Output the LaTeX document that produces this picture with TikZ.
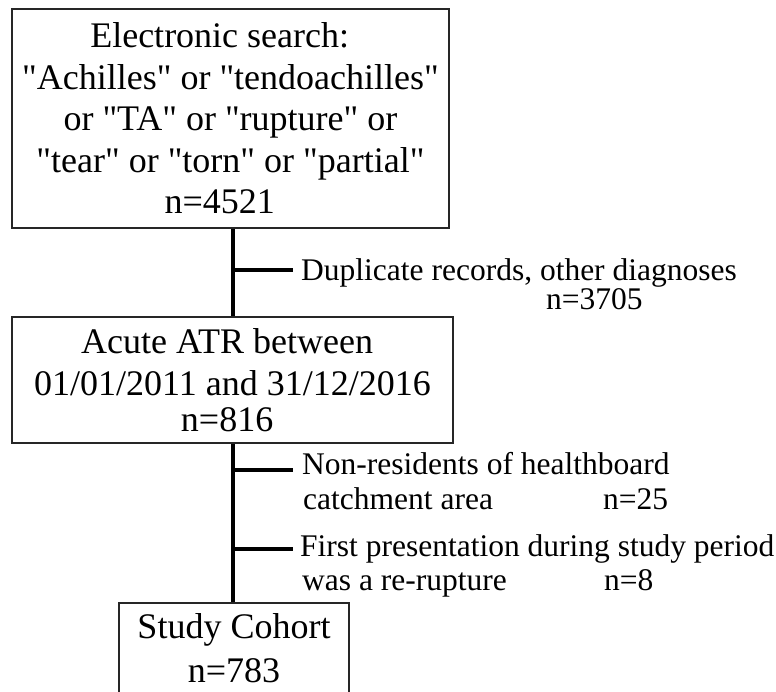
\documentclass[tikz,border=0pt]{standalone}
\usepackage{fontspec}
\setmainfont{Liberation Serif}[Ligatures=TeXOff]
\newcommand{\boxfont}{\fontsize{36}{41.5}\selectfont}
\newcommand{\brfont}{\fontsize{31.5}{35}\selectfont}
\begin{document}
\begin{tikzpicture}[x=1pt,y=-1pt,
  flowbox/.style={draw=black!85, line width=1.6pt, inner sep=0pt, align=center, font=\boxfont},
  trunk/.style={line width=4.5pt},
  branch/.style={line width=4pt},
  brtext/.style={anchor=base west, inner sep=0pt, font=\brfont}]
\clip (0,0) rectangle (776,691);
\fill[white] (0,0) rectangle (776,691);
\coordinate (tx) at (233,0);
% boxes
\node[flowbox, minimum width=437pt, minimum height=219pt] (b1) at (230.5,118.5)
  {Electronic search:\hspace*{0.6em}\\
   "Achilles" or "tendoachilles"\\
   or "TA" or "rupture" or\hspace*{0.35em}\\
   "tear" or "torn" or "partial"\\
   n=4521\hspace*{0.6em}};
\node[flowbox, minimum width=441pt, minimum height=126pt] (b2) at (232.5,380)
  {Acute ATR between\hspace*{0.3em}\\
   01/01/2011 and 31/12/2016\\[-5.4pt]
   n=816\hspace*{0.3em}};
\node[flowbox, anchor=north, minimum width=230pt, inner ysep=11pt, text depth=20pt] (b3) at (234,602)
  {Study Cohort\\[1.8pt]
   n=783};
% trunk
\draw[trunk] (b1.south -| tx) -- (b2.north -| tx);
\draw[trunk] (b2.south -| tx) -- (b3.north -| tx);
% branches
\coordinate (s1) at (233,270); \coordinate (e1) at (293,270);
\coordinate (s2) at (233,470); \coordinate (e2) at (293,470);
\coordinate (s3) at (233,549); \coordinate (e3) at (293,549);
\draw[branch] (s1) -- (e1);
\draw[branch] (s2) -- (e2);
\draw[branch] (s3) -- (e3);
% exclusion texts
\node[brtext] (d1) at (301,280) {Duplicate records, other diagnoses};
\node[brtext] (d1n) at (546,309.5) {n=3705};
\node[brtext] (d2a) at (302,474) {Non-residents of healthboard};
\node[brtext] (d2b) at (303,509.5) {catchment area};
\node[brtext] (d2n) at (603,509.5) {n=25};
\node[brtext] (d3a) at (300,556) {First presentation during study period};
\node[brtext] (d3b) at (302,590) {was a re-rupture};
\node[brtext] (d3n) at (604,590) {n=8};
\end{tikzpicture}
\end{document}
